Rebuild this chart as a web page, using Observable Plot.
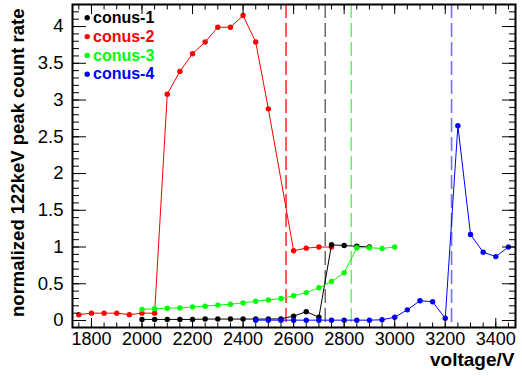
<!DOCTYPE html>
<html>
<head>
<meta charset="utf-8">
<script src="https://cdn.jsdelivr.net/npm/d3@7"></script>
<script src="https://cdn.jsdelivr.net/npm/@observablehq/plot@0.6"></script>
<style>
  body { margin: 0; background: #ffffff; }
  #chart svg { font-family: "Liberation Sans", Arial, Helvetica, sans-serif; }
</style>
</head>
<body>
<div id="chart"></div>
<script>
// Detector names and their colours (legend order)
const seriesNames = ["conus-1", "conus-2", "conus-3", "conus-4"];
const seriesColors = ["#000000", "#ff0000", "#00ff00", "#0000ff"];

// High-voltage scans: voltage (V) and normalized 122 keV peak count rate
const conus1Volts = [2000, 2050, 2100, 2150, 2200, 2250, 2300, 2350, 2400, 2450, 2500, 2550, 2600, 2650, 2700, 2750, 2800, 2850, 2900];
const conus1Rates = [0.015, 0.015, 0.015, 0.015, 0.015, 0.02, 0.02, 0.02, 0.02, 0.02, 0.02, 0.023, 0.06, 0.12, 0.045, 1.03, 1.02, 1.01, 1.0];

const conus2Volts = [1750, 1800, 1850, 1900, 1950, 2000, 2050, 2100, 2150, 2200, 2250, 2300, 2350, 2400, 2450, 2500, 2600, 2650, 2700, 2750];
const conus2Rates = [0.08, 0.1, 0.1, 0.1, 0.08, 0.1, 0.1, 3.08, 3.39, 3.63, 3.79, 3.99, 3.99, 4.15, 3.79, 2.88, 0.95, 0.985, 1.0, 1.0];

const conus3Volts = [2000, 2050, 2100, 2150, 2200, 2250, 2300, 2350, 2400, 2450, 2500, 2550, 2600, 2650, 2700, 2750, 2800, 2850, 2900, 2950, 3000];
const conus3Rates = [0.15, 0.16, 0.168, 0.172, 0.186, 0.195, 0.21, 0.222, 0.24, 0.262, 0.28, 0.3, 0.336, 0.38, 0.445, 0.53, 0.65, 0.99, 0.99, 0.98, 1.0];

const conus4Volts = [2450, 2500, 2550, 2600, 2650, 2700, 2750, 2800, 2850, 2900, 2950, 3000, 3050, 3100, 3150, 3200, 3250, 3300, 3350, 3400, 3450];
const conus4Rates = [0.005, 0.005, 0.005, 0.005, 0.005, 0.005, 0.005, 0.005, 0.005, 0.005, 0.01, 0.045, 0.145, 0.27, 0.255, 0.03, 2.65, 1.17, 0.93, 0.87, 1.0];

// Chosen operating voltage of each detector (conus-1..4), drawn as dashed lines
const operatingVolts = [2725, 2570, 2828, 3225];
const operatingColors = ["#555555", "#ff0000", "#55ee55", "#7070ff"];
const operatingWidths = [1.3, 1.3, 1.3, 1.6];

// Axis tick labels
const xTickLabels = [1800, 2000, 2200, 2400, 2600, 2800, 3000, 3200, 3400];
const yTickLabels = [0, 0.5, 1, 1.5, 2, 2.5, 3, 3.5, 4];
const xMinorTicks = d3.range(1750, 3451, 50);
const yMinorTicks = d3.range(0, 43).map(k => k / 10);

const seriesVolts = [conus1Volts, conus2Volts, conus3Volts, conus4Volts];
const seriesRates = [conus1Rates, conus2Rates, conus3Rates, conus4Rates];
const tables = seriesNames.map((name, i) =>
  seriesVolts[i].map((v, j) => ({name, voltage: v, rate: seriesRates[i][j]}))
);
const thresholds = operatingVolts.map((v, i) => ({voltage: v, color: operatingColors[i], width: operatingWidths[i]}));

// Drawing order: conus-2 underneath, then conus-1, conus-3, conus-4
const drawOrder = [1, 0, 2, 3];

const dataMarks = drawOrder.flatMap(i => [
  Plot.line(tables[i], {x: "voltage", y: "rate", stroke: seriesColors[i], strokeWidth: 1}),
  Plot.dot(tables[i], {x: "voltage", y: "rate", r: 2.7, fill: seriesColors[i], stroke: "none"})
]);

const legendMarks = seriesNames.flatMap((name, i) => [
  Plot.dot([name], {frameAnchor: "top-left", dx: 14.7, dy: 13.3 + i * 18.8, r: 2.7, fill: seriesColors[i], stroke: "none"}),
  Plot.text([name], {frameAnchor: "top-left", dx: 20.5, dy: 13.3 + i * 18.8, text: d => d,
    fill: seriesColors[i], fontWeight: "bold", fontSize: 16, textAnchor: "start", lineAnchor: "middle"})
]);

const tickOpts = {fill: "none", label: null, stroke: "#000", strokeWidth: 1};

const chart = Plot.plot({
  width: 522,
  height: 376,
  marginLeft: 72,
  marginRight: 7,
  marginTop: 4,
  marginBottom: 49,
  x: {type: "linear", domain: [1725, 3478]},
  y: {type: "linear", domain: [-0.095, 4.3]},
  style: {background: "#ffffff", color: "#000000"},
  marks: [
    Plot.ruleX(thresholds, {x: "voltage", stroke: "color", strokeWidth: "width", strokeDasharray: "14,5"}),
    ...dataMarks,
    // inward ticks on all four sides
    Plot.axisX(xMinorTicks, {anchor: "bottom", tickSize: -4.5, ...tickOpts}),
    Plot.axisX(xTickLabels, {anchor: "bottom", tickSize: -9, ...tickOpts}),
    Plot.axisX(xMinorTicks, {anchor: "top", tickSize: -4.5, ...tickOpts}),
    Plot.axisX(xTickLabels, {anchor: "top", tickSize: -9, ...tickOpts}),
    Plot.axisY(yMinorTicks, {anchor: "left", tickSize: -7, ...tickOpts}),
    Plot.axisY(yTickLabels, {anchor: "left", tickSize: -14, ...tickOpts}),
    Plot.axisY(yMinorTicks, {anchor: "right", tickSize: -7, ...tickOpts}),
    Plot.axisY(yTickLabels, {anchor: "right", tickSize: -14, ...tickOpts}),
    // tick labels
    Plot.axisX(xTickLabels, {anchor: "bottom", tickSize: 0, tickPadding: 5, stroke: "none", label: null,
      fontSize: 18, fill: "#000", tickFormat: d => String(d)}),
    Plot.axisY(yTickLabels, {anchor: "left", tickSize: 0, tickPadding: 9, stroke: "none", label: null,
      fontSize: 18.5, fill: "#000", tickFormat: d => String(d)}),
    // axis titles
    Plot.text(["voltage/V"], {frameAnchor: "bottom-right", dx: -1, dy: 25, text: d => d,
      fontWeight: "bold", fontSize: 19, textAnchor: "end", lineAnchor: "top", fill: "#000"}),
    Plot.text(["normalized 122keV peak count rate"], {frameAnchor: "top-left", dx: -54, dy: 4, text: d => d,
      rotate: -90, fontWeight: "bold", fontSize: 18.5, textAnchor: "end", lineAnchor: "middle", fill: "#000"}),
    ...legendMarks,
    Plot.frame({stroke: "#000", strokeWidth: 2})
  ]
});

document.getElementById("chart").append(chart);
</script>
</body>
</html>
